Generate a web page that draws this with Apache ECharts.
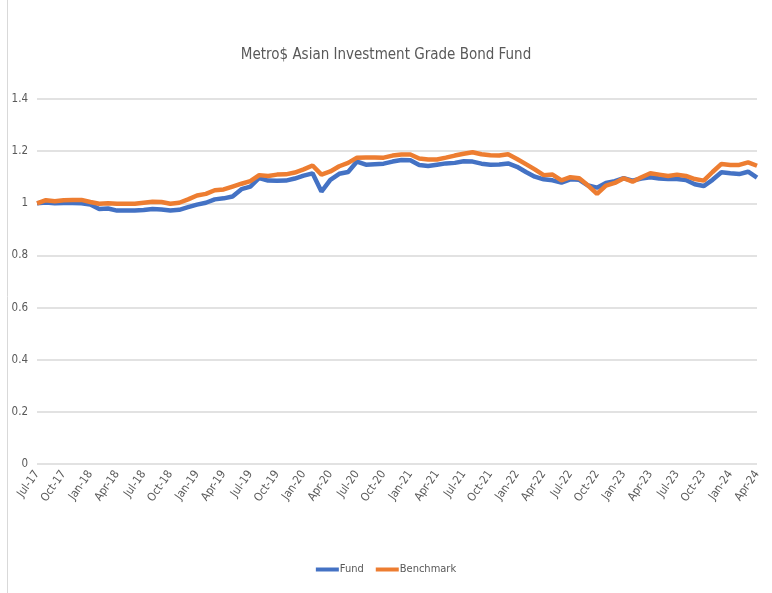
<!DOCTYPE html>
<html>
<head>
<meta charset="utf-8">
<script src="https://cdn.jsdelivr.net/npm/echarts@6/dist/echarts.min.js"></script>
<style>
html,body{margin:0;padding:0;background:#fff;}
#chart1{width:772px;height:593px;}
</style>
</head>
<body>
<div id="chart1"></div>
<script>
// 月份 Jul-17 .. Apr-24
var monthNames = ['Jan','Feb','Mar','Apr','May','Jun','Jul','Aug','Sep','Oct','Nov','Dec'];
var months = [];
for (var y = 17; y <= 24; y++) {
    for (var m = 0; m < 12; m++) {
        if (y === 17 && m < 6) continue;
        if (y === 24 && m > 3) continue;
        months.push(monthNames[m] + '-' + y);
    }
}

var fundData = [
    1.000, 1.003, 1.000, 1.001, 1.001, 1.000, 0.995, 0.978, 0.980, 0.972,
    0.972, 0.972, 0.974, 0.978, 0.976, 0.972, 0.975, 0.985, 0.995, 1.002,
    1.015, 1.019, 1.026, 1.054, 1.064, 1.097, 1.087, 1.086, 1.087, 1.095,
    1.106, 1.115, 1.045, 1.090, 1.113, 1.120, 1.160, 1.148, 1.150, 1.152,
    1.160, 1.166, 1.165, 1.147, 1.143, 1.148, 1.153, 1.155, 1.161, 1.160,
    1.152, 1.148, 1.149, 1.153, 1.140, 1.120, 1.102, 1.092, 1.088, 1.079,
    1.092, 1.090, 1.068, 1.060, 1.078, 1.085, 1.096, 1.087, 1.095, 1.100,
    1.095, 1.093, 1.093, 1.089, 1.073, 1.066, 1.090, 1.119, 1.115, 1.112,
    1.121, 1.098
];
var benchData = [
    1.000, 1.012, 1.008, 1.012, 1.013, 1.013, 1.005, 0.998, 1.000, 0.998,
    0.998, 0.998, 1.002, 1.006, 1.005, 0.998, 1.002, 1.015, 1.030, 1.036,
    1.050, 1.053, 1.064, 1.075, 1.085, 1.108, 1.105, 1.110, 1.111, 1.118,
    1.130, 1.145, 1.110, 1.122, 1.142, 1.155, 1.175, 1.176, 1.176, 1.175,
    1.183, 1.187, 1.187, 1.172, 1.168, 1.168, 1.175, 1.183, 1.190, 1.196,
    1.188, 1.184, 1.183, 1.188, 1.170, 1.150, 1.130, 1.108, 1.110, 1.088,
    1.100, 1.096, 1.068, 1.036, 1.068, 1.078, 1.096, 1.083, 1.100, 1.115,
    1.110, 1.105, 1.110, 1.105, 1.093, 1.087, 1.120, 1.151, 1.147, 1.147,
    1.157, 1.144
];
var seriesNames = ['Fund', 'Benchmark'];

var fontFam = "'Liberation Sans Narrow','DejaVu Sans Condensed','Open Sans',sans-serif";

var myChart = {
    init: function () {
        var option = {
            color: ['#4472C4', '#ED7D31'],
            animation: false,
            title: {
                text: 'Metro$ Asian Investment Grade Bond Fund',
                left: 'center',
                top: 43,
                textStyle: {
                    color: '#595959',
                    fontFamily: fontFam,
                    fontSize: 15,
                    fontWeight: 'normal'
                }
            },
            legend: {
                data: seriesNames,
                bottom: 13,
                left: 'center',
                icon: 'rect',
                itemWidth: 23,
                itemHeight: 4,
                itemGap: 12,
                textStyle: {
                    color: '#595959',
                    fontFamily: fontFam,
                    fontSize: 11,
                    padding: [0, 0, 0, -4]
                }
            },
            grid: {
                left: 37,
                right: 15,
                top: 99,
                bottom: 129,
                containLabel: false
            },
            xAxis: {
                type: 'category',
                boundaryGap: false,
                data: months,
                axisLine: {
                    show: false
                },
                axisTick: {
                    show: false
                },
                axisLabel: {
                    interval: 2,
                    rotate: 55,
                    margin: 8,
                    color: '#595959',
                    fontFamily: fontFam,
                    fontSize: 11.5
                }
            },
            yAxis: {
                type: 'value',
                min: 0,
                max: 1.4,
                interval: 0.2,
                axisLine: {
                    show: false
                },
                axisTick: {
                    show: false
                },
                axisLabel: {
                    margin: 9,
                    color: '#595959',
                    fontFamily: fontFam,
                    fontSize: 11.5,
                    formatter: function (v) {
                        return String(Math.round(v * 10) / 10);
                    }
                },
                splitLine: {
                    lineStyle: {
                        color: '#D9D9D9',
                        width: 1.5
                    }
                }
            },
            graphic: [{
                type: 'line',
                shape: { x1: 7.5, y1: 0, x2: 7.5, y2: 593 },
                style: { stroke: '#D9D9D9', lineWidth: 1 }
            }],
            series: [
                {
                    name: seriesNames[0],
                    type: 'line',
                    data: fundData,
                    symbol: 'none',
                    lineStyle: { width: 4.5 }
                },
                {
                    name: seriesNames[1],
                    type: 'line',
                    data: benchData,
                    symbol: 'none',
                    lineStyle: { width: 4.5 }
                }
            ]
        };
        var chart = echarts.init(document.getElementById('chart1'));
        chart.setOption(option);
        return chart;
    }
};

myChart.init();
</script>
</body>
</html>
